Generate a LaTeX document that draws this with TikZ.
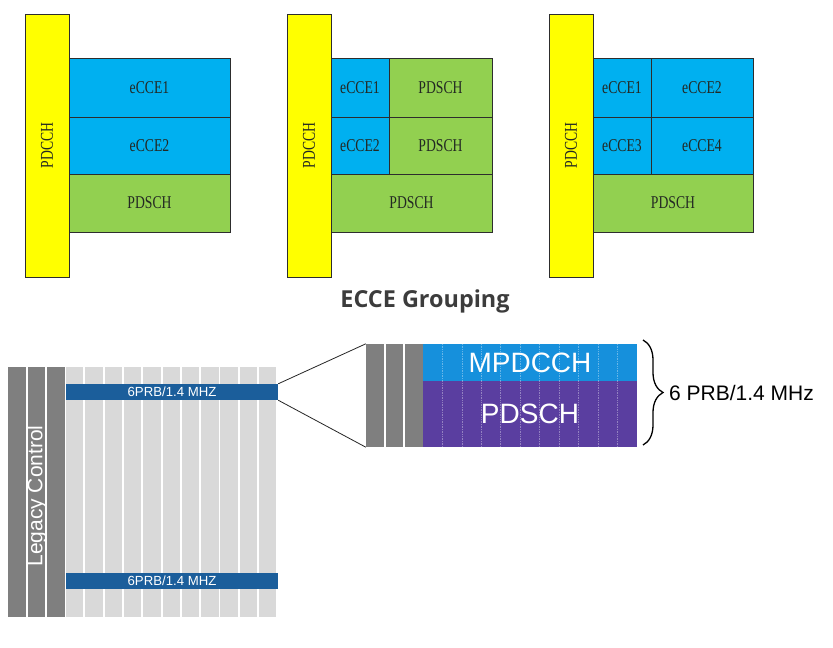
\documentclass[tikz,border=0pt]{standalone}
\usepackage{fontspec}
\setmainfont{Liberation Sans}
\newfontfamily\cnserif[FakeStretch=0.76]{Liberation Serif}
\newfontfamily\titlefont{Open Sans}
\usetikzlibrary{decorations.pathreplacing}
\definecolor{yel}{RGB}{255,255,0}
\definecolor{ecce}{RGB}{0,176,240}
\definecolor{pds}{RGB}{146,208,80}
\definecolor{bord}{RGB}{45,45,45}
\definecolor{txt}{RGB}{35,40,35}
\definecolor{dgray}{RGB}{127,127,127}
\definecolor{lgray}{RGB}{217,217,217}
\definecolor{barblue}{RGB}{27,94,155}
\definecolor{mpblue}{RGB}{22,144,220}
\definecolor{purp}{RGB}{90,62,160}
\definecolor{titlegray}{RGB}{60,60,60}
\tikzset{
  cell/.style={draw=bord, line width=1pt, inner sep=0pt,
    font=\cnserif\fontsize{18}{18}\selectfont, text=txt},
  yelbar/.style={cell, fill=yel, minimum width=44pt, minimum height=263pt},
  eccebox/.style={cell, fill=ecce},
  pdsbox/.style={cell, fill=pds},
  rotlbl/.style={rotate=90, inner sep=0pt,
    font=\cnserif\fontsize{18}{18}\selectfont, text=txt},
  bar/.style={fill=barblue, minimum width=212pt, minimum height=16pt,
    inner sep=0pt, text=white, font=\fontsize{13.2}{13.2}\selectfont},
  dcol/.style={fill=dgray, minimum height=103pt, inner sep=0pt},
  bigblk/.style={minimum width=214pt, inner sep=0pt, text=white,
    font=\fontsize{28}{28}\selectfont},
  zoomline/.style={line width=0.8pt, black!85},
}
\begin{document}
\begin{tikzpicture}[x=1pt,y=-1pt]
\useasboundingbox[fill=white] (0,0) rectangle (833,648);

% ---------- Panel 1 ----------
\node[yelbar] (y1) at (47,145.5) {};
\node[rotlbl] (y1t) at (y1.center) {PDCCH};
\node[eccebox, minimum width=161pt, minimum height=59pt] (a1) at (149.5,87.5) {eCCE1};
\node[eccebox, minimum width=161pt, minimum height=57pt] (a2) at (149.5,145.5) {eCCE2};
\node[pdsbox, minimum width=161pt, minimum height=58pt] (a3) at (149.5,203) {PDSCH};

% ---------- Panel 2 ----------
\node[yelbar] (y2) at (309,145.5) {};
\node[rotlbl] (y2t) at (y2.center) {PDCCH};
\node[eccebox, minimum width=58pt, minimum height=59pt] (b1) at (360,87.5) {eCCE1};
\node[pdsbox, minimum width=103pt, minimum height=59pt] (b2) at (440.5,87.5) {PDSCH};
\node[eccebox, minimum width=58pt, minimum height=57pt] (b3) at (360,145.5) {eCCE2};
\node[pdsbox, minimum width=103pt, minimum height=57pt] (b4) at (440.5,145.5) {PDSCH};
\node[pdsbox, minimum width=161pt, minimum height=58pt] (b5) at (411.5,203) {PDSCH};

% ---------- Panel 3 ----------
\node[yelbar] (y3) at (571,145.5) {};
\node[rotlbl] (y3t) at (y3.center) {PDCCH};
\node[eccebox, minimum width=58pt, minimum height=59pt] (c1) at (622,87.5) {eCCE1};
\node[eccebox, minimum width=102pt, minimum height=59pt] (c2) at (702,87.5) {eCCE2};
\node[eccebox, minimum width=58pt, minimum height=57pt] (c3) at (622,145.5) {eCCE3};
\node[eccebox, minimum width=102pt, minimum height=57pt] (c4) at (702,145.5) {eCCE4};
\node[pdsbox, minimum width=160pt, minimum height=58pt] (c5) at (673,203) {PDSCH};

% ---------- Title ----------
\node[font=\titlefont\bfseries\fontsize{23.4}{23.4}\selectfont, text=titlegray] (title) at (425,301) {ECCE Grouping};

% ---------- Bottom left grid ----------
\foreach \i in {0,1,2} \fill[dgray] ({8.3+19.4*\i},367) rectangle ++(17.5,250);
\foreach \i in {0,...,10} \fill[lgray] ({66+19.3*\i},367) rectangle ++(17.4,250);
\node[rotate=90, text=white, inner sep=0pt, font=\fontsize{21}{21}\selectfont] (legacy) at (37,496) {Legacy Control};
\node[bar] (bar1) at (172,392) {6PRB/1.4 MHZ};
\node[bar] (bar2) at (172,581) {6PRB/1.4 MHZ};

% ---------- Zoomed block ----------
\node[dcol, minimum width=18pt] (r1) at (375,395.5) {};
\node[dcol, minimum width=17.3pt] (r2) at (394.3,395.5) {};
\node[dcol, minimum width=17.7pt] (r3) at (413.8,395.5) {};
\node[bigblk, fill=mpblue, minimum height=37pt] (mp) at (530,362.5) {MPDCCH};
\node[bigblk, fill=purp, minimum height=66pt] (pd) at (530,414) {PDSCH};
\foreach \k in {1,...,10}
  \draw[white, opacity=0.35, line width=0.7pt, densely dotted] ({423+19.45*\k},344) -- ++(0,103);

\draw[zoomline] (bar1.north east) -- (r1.north west);
\draw[zoomline] (bar1.south east) -- (r1.south west);

% ---------- Brace ----------
\coordinate (br1) at (643,340);
\coordinate (br2) at (643,445);
\draw[decorate, decoration={brace, amplitude=20pt}, line width=1.3pt] (br1) -- (br2);
\node[anchor=base west, inner sep=0pt, font=\fontsize{21}{21}\selectfont] (lbl) at (669,400) {6 PRB/1.4 MHz};
\end{tikzpicture}
\end{document}
